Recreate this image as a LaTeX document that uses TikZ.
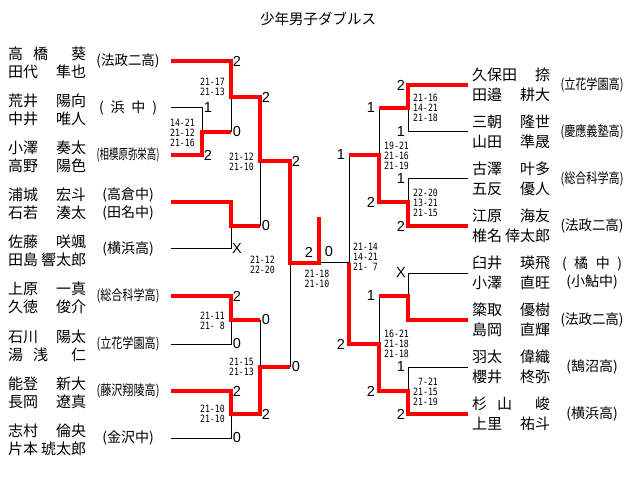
\documentclass[tikz,border=0pt]{standalone}
\usepackage{graphicx}
\usepackage{fontspec}
\newfontfamily\jpf{Noto Sans CJK JP}
\newfontfamily\labf{Liberation Sans}
\newfontfamily\scoref[FakeStretch=0.82]{DejaVu Sans Mono}
\newcommand{\nm}[2]{\makebox[78pt][l]{#1\hfill #2}}
\newcommand{\sch}[1]{\sbox0{#1}\ifdim\wd0>63pt\resizebox{63pt}{\height}{#1}\else\usebox0\fi}
\newcommand{\entL}[8]{%
  \node[nmtext] (#1a) at (8,#2-7.5) {\nm{#3}{#4}};
  \node[nmtext] (#1b) at (8,#2+11) {\nm{#5}{#6}};
  \node[schtext] (#1s) at (128,#2+#8) {\sch{#7}};
}
\newcommand{\entR}[8]{%
  \node[nmtext] (#1a) at (472,#2-10) {\nm{#3}{#4}};
  \node[nmtext] (#1b) at (472,#2+9.5) {\nm{#5}{#6}};
  \node[schtext] (#1s) at (592,#2+#8) {\sch{#7}};
}
\tikzset{
  win/.style={red, line width=3.2pt},
  lose/.style={black, line width=1pt},
  nmtext/.style={font=\jpf\fontsize{15pt}{15pt}\selectfont, inner sep=0pt, anchor=west},
  schtext/.style={font=\jpf\fontsize{14pt}{14pt}\selectfont, inner sep=0pt},
  lab/.style={font=\labf\fontsize{14.5pt}{14.5pt}\selectfont, inner sep=0pt},
  sco/.style={font=\scoref\fontsize{10pt}{9.8pt}\selectfont, inner sep=0pt},
  scoL/.style={sco, anchor=east, align=right},
  scoR/.style={sco, anchor=west, align=left},
}
\begin{document}
\begin{tikzpicture}[x=1pt,y=-1pt]
\useasboundingbox (0,0) rectangle (640,489);
\fill[white] (0,0) rectangle (640,489);

\node[font=\jpf\fontsize{14.5pt}{14.5pt}\selectfont, inner sep=0pt] (title) at (318,19) {少年男子ダブルス};

% ---------- coordinates ----------
\coordinate (a1) at (171,61);  \coordinate (a2) at (171,108); \coordinate (a3) at (171,155);
\coordinate (a4) at (171,202); \coordinate (a5) at (171,249); \coordinate (a6) at (171,296);
\coordinate (a7) at (171,344); \coordinate (a8) at (171,391); \coordinate (a9) at (171,438);
\coordinate (jA1) at (202,132); \coordinate (jA2) at (231,97);
\coordinate (jB) at (231,226);  \coordinate (jC) at (231,320); \coordinate (jD) at (231,414);
\coordinate (jQ1) at (260,161); \coordinate (jQ2) at (260,367);
\coordinate (jS) at (290,263);  \coordinate (jF) at (319,263); \coordinate (jFt) at (319,217);

\coordinate (b1) at (468,85);  \coordinate (b2) at (468,132); \coordinate (b3) at (468,179);
\coordinate (b4) at (468,226); \coordinate (b5) at (468,273); \coordinate (b6) at (468,320);
\coordinate (b7) at (468,367); \coordinate (b8) at (468,414);
\coordinate (k1) at (408,108); \coordinate (k2) at (408,202);
\coordinate (k3) at (408,296); \coordinate (k4) at (408,391);
\coordinate (q1) at (379,155); \coordinate (q2) at (379,344);
\coordinate (s) at (349,263);

% ---------- losing lines ----------
\draw[lose] (a2) -| (jA1);
\draw[lose] (jA2) -- (jA1 -| jA2);
\draw[lose] (a5) -| (jB);
\draw[lose] (jQ1) -- (jB -| jQ1);
\draw[lose] (a7) -| (jC);
\draw[lose] (jC -| jQ2) -- (jQ2);
\draw[lose] (a9) -| (jD);
\draw[lose] (jS) -- (jQ2 -| jS);
\draw[lose] (jF) -- (s);
\draw[lose] (b2) -| (k1);
\draw[lose] (k1 -| q1) -- (q1);
\draw[lose] (b3) -| (k2);
\draw[lose] (b5) -| (k3);
\draw[lose] (k3 -| q2) -- (q2);
\draw[lose] (b7) -| (k4);
\draw[lose] (q1 -| s) -- (s);

% ---------- winning lines ----------
\draw[win] (a1) -| (jA2) -| (jQ1) -| (jS) -- (jF) -- (jFt);
\draw[win] (a3) -| (jA1) -- (jA1 -| jA2);
\draw[win] (a4) -| (jB) -- (jB -| jQ1);
\draw[win] (a6) -| (jC) -- (jC -| jQ2);
\draw[win] (a8) -| (jD) -| (jQ2) -- (jQ2 -| jS);
\draw[win] (b1) -| (k1) -- (k1 -| q1);
\draw[win] (b4) -| (k2) -| (q1) -- (q1 -| s);
\draw[win] (b6) -| (k3) -- (k3 -| q2);
\draw[win] (b8) -| (k4) -| (q2) -| (s);

% ---------- left entries ----------
\entL{e1}{61}{高\hspace{10pt}橋}{葵}{田代}{隼也}{(法政二高)}{0}
\entL{e2}{108}{荒井}{陽向}{中井}{唯人}{\makebox[58pt]{(\hfill 浜\hfill 中\hfill )}}{0}
\entL{e3}{155}{小澤}{奏太}{高野}{陽色}{(相模原弥栄高)}{0}
\entL{e4}{202}{浦城}{宏斗}{石若}{湊太}{(高倉中)}{-7.5}
\node[schtext] (e4t) at (128,213) {(田名中)};
\entL{e5}{249}{佐藤}{咲颯}{田島}{響太郎}{(横浜高)}{0}
\entL{e6}{296}{上原}{一真}{久徳}{俊介}{(総合科学高)}{0}
\entL{e7}{344}{石川}{陽太}{湯\hspace{10pt}浅}{仁}{(立花学園高)}{0}
\entL{e8}{391}{能登}{新大}{長岡}{遼真}{(藤沢翔陵高)}{0}
\entL{e9}{438}{志村}{倫央}{片本}{琥太郎}{(金沢中)}{0}

% ---------- right entries ----------
\entR{r1}{85}{久保田}{捺}{田邉}{耕大}{(立花学園高)}{0}
\entR{r2}{132}{三朝}{隆世}{山田}{準晟}{(慶應義塾高)}{0}
\entR{r3}{179}{古澤}{叶多}{五反}{優人}{(総合科学高)}{0}
\entR{r4}{226}{江原}{海友}{椎名}{倖太郎}{(法政二高)}{0}
\entR{r5}{273}{臼井}{瑛飛}{小澤}{直旺}{\makebox[60pt]{(\hfill 橘\hfill 中\hfill )}}{-9}
\node[schtext] (r5t) at (592,282) {(小鮎中)};
\entR{r6}{320}{簗取}{優樹}{島岡}{直輝}{(法政二高)}{0}
\entR{r7}{367}{羽太}{偉織}{櫻井}{柊弥}{(鵠沼高)}{0}
\entR{r8}{414}{杉\hspace{10pt}山}{峻}{上里}{祐斗}{(横浜高)}{0}

% ---------- game counts ----------
\node[lab] (g1) at (208,108) {1};
\node[lab] (g2) at (208,155) {2};
\node[lab] (g3) at (237,61) {2};
\node[lab] (g4) at (237,132) {0};
\node[lab] (g5) at (237,249) {X};
\node[lab] (g6) at (266,97) {2};
\node[lab] (g7) at (266,226) {0};
\node[lab] (g8) at (237,296) {2};
\node[lab] (g9) at (237,344) {0};
\node[lab] (g10) at (237,391) {2};
\node[lab] (g11) at (237,438) {0};
\node[lab] (g12) at (266,320) {0};
\node[lab] (g13) at (266,414) {2};
\node[lab] (g14) at (296,161) {2};
\node[lab] (g15) at (296,367) {0};
\node[lab] (g16) at (309,252) {2};
\node[lab] (g17) at (329,252) {0};
\node[lab] (h1) at (401,85) {2};
\node[lab] (h2) at (401,132) {1};
\node[lab] (h3) at (401,179) {1};
\node[lab] (h4) at (401,226) {2};
\node[lab] (h5) at (401,273) {X};
\node[lab] (h6) at (401,367) {1};
\node[lab] (h7) at (401,414) {2};
\node[lab] (h8) at (371,108) {1};
\node[lab] (h9) at (371,202) {2};
\node[lab] (h10) at (371,296) {1};
\node[lab] (h11) at (371,391) {2};
\node[lab] (h12) at (341,155) {1};
\node[lab] (h13) at (341,344) {2};

% ---------- set scores ----------
\node[scoL] (s1) at (195,133) {14-21\\21-12\\21-16};
\node[scoL] (s2) at (225,87) {21-17\\21-13};
\node[scoL] (s3) at (254,161.5) {21-12\\21-10};
\node[scoL] (s4) at (225,320.5) {21-11\\21-\phantom{0}8};
\node[scoL] (s5) at (225,414) {21-10\\21-10};
\node[scoL] (s6) at (254,367) {21-15\\21-13};
\node[scoL] (s7) at (275,264.5) {21-12\\22-20};
\node[sco, align=center] (s8) at (317,279) {21-18\\21-10};
\node[scoR] (t1) at (413,108) {21-16\\14-21\\21-18};
\node[scoR] (t2) at (413,203) {22-20\\13-21\\21-15};
\node[scoR] (t3) at (384,156) {19-21\\21-16\\21-19};
\node[scoR] (t4) at (353,257) {21-14\\14-21\\21-\phantom{0}7};
\node[scoR] (t5) at (384,344) {16-21\\21-18\\21-18};
\node[scoR] (t6) at (413,392) {\phantom{0}7-21\\21-15\\21-19};
\end{tikzpicture}
\end{document}
